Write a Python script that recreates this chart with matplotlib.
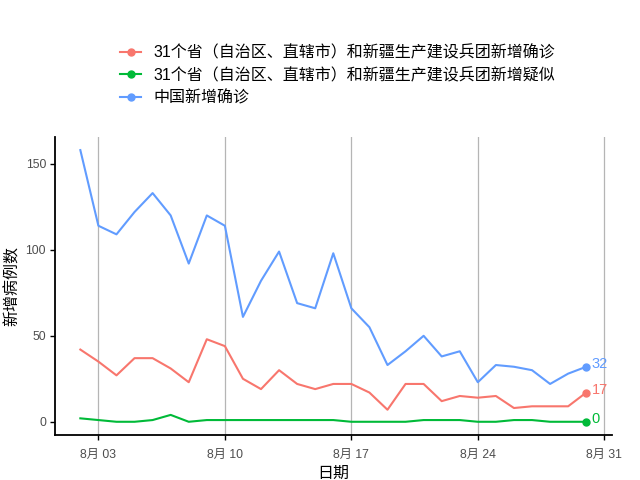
import matplotlib
matplotlib.use('Agg')
import matplotlib.pyplot as plt
import matplotlib.dates as mdates
from matplotlib.ticker import FuncFormatter
import pandas as pd

plt.rcParams['font.family'] = ['Liberation Sans', 'Noto Sans CJK SC', 'DejaVu Sans']

dates = pd.date_range('2022-08-02', '2022-08-30')

confirmed_31 = [42, 35, 27, 37, 37, 31, 23, 48, 44, 25, 19, 30, 22, 19, 22,
                22, 17, 7, 22, 22, 12, 15, 14, 15, 8, 9, 9, 9, 17]
suspected_31 = [2, 1, 0, 0, 1, 4, 0, 1, 1, 1, 1, 1, 1, 1, 1,
                0, 0, 0, 0, 1, 1, 1, 0, 0, 1, 1, 0, 0, 0]
confirmed_cn = [158, 114, 109, 122, 133, 120, 92, 120, 114, 61, 82, 99, 69, 66, 98,
                66, 55, 33, 41, 50, 38, 41, 23, 33, 32, 30, 22, 28, 32]

labels = ['31个省（自治区、直辖市）和新疆生产建设兵团新增确诊',
          '31个省（自治区、直辖市）和新疆生产建设兵团新增疑似',
          '中国新增确诊']
colors = ['#F8766D', '#00BA38', '#619CFF']
series = [confirmed_31, suspected_31, confirmed_cn]

tick_dates = pd.to_datetime(['2022-08-03', '2022-08-10', '2022-08-17',
                             '2022-08-24', '2022-08-31'])

fig = plt.figure(figsize=(6.4, 4.8), dpi=100)
ax = fig.add_axes([0.086, 0.093, 0.8695, 0.6226])

handles = []
for vals, col, lab in zip(series, colors, labels):
    ax.plot(dates, vals, color=col, lw=1.5, label=lab)
    ax.plot(dates[-1], vals[-1], 'o', color=col, markersize=5)
    ax.annotate(str(vals[-1]), (dates[-1], vals[-1]), xytext=(4, 2),
                textcoords='offset points', color=col, fontsize=10.5,
                va='center', ha='left')
    h, = ax.plot([], [], color=col, lw=1.5, marker='o', markersize=5)
    handles.append(h)

ax.set_xlim(dates[0] - pd.Timedelta(days=1.4), dates[-1] + pd.Timedelta(days=1.4))
ax.set_ylim(-7.9, 165.9)
ax.set_xticks(tick_dates)
ax.xaxis.set_major_formatter(FuncFormatter(
    lambda v, p: f"{mdates.num2date(v).month}月 {mdates.num2date(v).day:02d}"))
ax.set_yticks([0, 50, 100, 150])

ax.grid(axis='x', color='#b5b5b5', lw=0.9)
ax.grid(axis='y', visible=False)
ax.set_axisbelow(True)
for s in ['top', 'right']:
    ax.spines[s].set_visible(False)
for s in ['left', 'bottom']:
    ax.spines[s].set_linewidth(1.3)
    ax.spines[s].set_color('black')
ax.tick_params(axis='both', length=3.5, width=1, color='black',
               labelsize=8.8, labelcolor='#4D4D4D', pad=3)
ax.tick_params(axis='x', pad=6)

ax.set_xlabel('日期', fontsize=11.5, labelpad=4)
ax.set_ylabel('新增病例数', fontsize=11.5, labelpad=4)

fig.legend(handles, labels, loc='upper left', bbox_to_anchor=(0.178, 0.92),
           frameon=False, fontsize=11.5, handlelength=1.3, handletextpad=0.8,
           labelspacing=0.45, borderaxespad=0)

fig.savefig('out.png', dpi=100)
